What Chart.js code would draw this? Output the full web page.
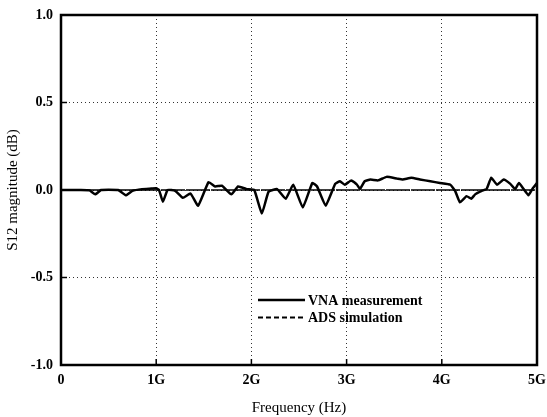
<!DOCTYPE html>
<html>
<head>
<meta charset="utf-8">
<script src="https://cdn.jsdelivr.net/npm/chart.js@4/dist/chart.umd.min.js"></script>
<style>
  html, body { margin: 0; padding: 0; background: #fff; }
  #wrap { width: 547px; height: 417px; }
</style>
</head>
<body>
<div id="wrap"><canvas id="s12Chart"></canvas></div>
<script>
const freqGHz = [0, 0.1, 0.2, 0.3, 0.36, 0.42, 0.5, 0.6, 0.68, 0.75, 0.85, 0.95, 1.0, 1.03, 1.07, 1.12, 1.2, 1.28,
    1.36, 1.44, 1.55, 1.62, 1.69, 1.79, 1.86, 1.95, 2.03, 2.11, 2.18, 2.27, 2.36, 2.44, 2.54, 2.64, 2.69, 2.78,
    2.88, 2.93, 2.98, 3.05, 3.11, 3.14, 3.19, 3.25, 3.33, 3.42, 3.53, 3.59, 3.68, 3.77, 3.88, 3.98, 4.09, 4.14,
    4.19, 4.26, 4.31, 4.35, 4.42, 4.47, 4.52, 4.58, 4.65, 4.72, 4.77, 4.81, 4.86, 4.91, 4.95, 5.0];
const vnaMeasurement = [0, 0, 0, -0.002, -0.025, 0, 0.002, 0, -0.03, -0.005, 0.005, 0.008, 0.01, 0, -0.067, 0, -0.005, -0.045,
    -0.02, -0.09, 0.045, 0.02, 0.025, -0.025, 0.02, 0.005, 0, -0.135, -0.01, 0.005, -0.05, 0.03, -0.1, 0.04, 0.02, -0.09,
    0.035, 0.05, 0.03, 0.055, 0.03, 0.005, 0.05, 0.06, 0.055, 0.075, 0.065, 0.06, 0.07, 0.06, 0.05, 0.04, 0.03, -0.005,
    -0.07, -0.035, -0.05, -0.025, -0.005, 0.005, 0.07, 0.03, 0.06, 0.035, 0.005, 0.04, 0.005, -0.03, 0.005, 0.04];
// ADS simulation: flat through the band
const simFreqGHz = [0, 5];
const adsSimulation = [0, 0];

const xTicks = [0, 1, 2, 3, 4, 5];
const yTicks = [-1.0, -0.5, 0.0, 0.5, 1.0];
const legendLabels = ['VNA measurement', 'ADS simulation'];

const serif = '"Liberation Serif", "DejaVu Serif", serif';

// Frame, inward tick marks and the legend box inside the plot
const framePlugin = {
    id: 'frame',
    afterDatasetsDraw(chart) {
        const { ctx, chartArea: a, scales } = chart;
        ctx.save();
        ctx.strokeStyle = '#000';
        ctx.lineWidth = 1.5;
        xTicks.forEach(v => {
            const x = scales.x.getPixelForValue(v);
            ctx.beginPath(); ctx.moveTo(x, a.bottom); ctx.lineTo(x, a.bottom - 6); ctx.stroke();
        });
        yTicks.forEach(v => {
            const y = scales.y.getPixelForValue(v);
            ctx.beginPath(); ctx.moveTo(a.left, y); ctx.lineTo(a.left + 6, y); ctx.stroke();
        });
        ctx.lineWidth = 2.5;
        ctx.strokeRect(a.left, a.top, a.right - a.left, a.bottom - a.top);

        // legend
        const lx = 258, ly = 300;
        ctx.font = 'bold 14px ' + serif;
        ctx.textBaseline = 'middle';
        ctx.fillStyle = '#000';
        chart.data.datasets.forEach((ds, i) => {
            const y = ly + i * 17.5;
            ctx.lineWidth = i === 1 ? 2 : ds.borderWidth;
            ctx.setLineDash(i === 1 ? [5, 3] : []);
            ctx.beginPath(); ctx.moveTo(lx, y); ctx.lineTo(lx + 47, y); ctx.stroke();
            ctx.setLineDash([]);
            ctx.fillText(legendLabels[i], lx + 50, y + 1);
        });
        ctx.restore();
    }
};

new Chart(document.getElementById('s12Chart').getContext('2d'), {
    type: 'line',
    data: {
        datasets: [
            {
                label: legendLabels[0],
                data: freqGHz.map((f, i) => ({ x: f, y: vnaMeasurement[i] })),
                borderColor: '#000', borderWidth: 2.5, pointRadius: 0, tension: 0.12, fill: false
            },
            {
                label: legendLabels[1],
                data: simFreqGHz.map((f, i) => ({ x: f, y: adsSimulation[i] })),
                borderColor: '#000', borderWidth: 1.5, borderDash: [24, 1], pointRadius: 0, fill: false
            }
        ]
    },
    options: {
        responsive: true,
        maintainAspectRatio: false,
        animation: false,
        layout: { padding: { top: 15, right: 10, left: 0, bottom: 0 } },
        plugins: { legend: { display: false }, tooltip: { enabled: false } },
        scales: {
            x: {
                type: 'linear', min: 0, max: 5,
                afterFit: s => { s.height = 52; s.paddingRight = 0; s.paddingLeft = 0; },
                afterBuildTicks: s => { s.ticks = xTicks.map(v => ({ value: v })); },
                ticks: {
                    color: '#000', padding: 7,
                    font: { family: serif, size: 14, weight: 'bold' },
                    callback: v => v === 0 ? '0' : v + 'G'
                },
                grid: {
                    drawTicks: false,
                    color: c => (c.tick.value === 0 || c.tick.value === 5) ? 'rgba(0,0,0,0)' : '#333',
                    lineWidth: 1
                },
                border: { display: false, dash: [1, 3] },
                title: {
                    display: true, text: 'Frequency (Hz)', color: '#000',
                    font: { family: serif, size: 15 }, padding: { top: 4, bottom: 0 }
                }
            },
            y: {
                type: 'linear', min: -1, max: 1,
                afterFit: s => { s.width = 61; s.paddingTop = 0; s.paddingBottom = 0; },
                afterBuildTicks: s => { s.ticks = yTicks.map(v => ({ value: v })); },
                ticks: {
                    color: '#000', padding: 8,
                    font: { family: serif, size: 14, weight: 'bold' },
                    callback: v => v.toFixed(1)
                },
                grid: {
                    drawTicks: false,
                    color: c => Math.abs(c.tick.value) === 1 ? 'rgba(0,0,0,0)' : '#333',
                    lineWidth: 1
                },
                border: { display: false, dash: [1, 3] },
                title: {
                    display: true, text: 'S12 magnitude (dB)', color: '#000',
                    font: { family: serif, size: 15 }, padding: { top: 4, bottom: 0 }
                }
            }
        }
    },
    plugins: [framePlugin]
});
</script>
</body>
</html>
